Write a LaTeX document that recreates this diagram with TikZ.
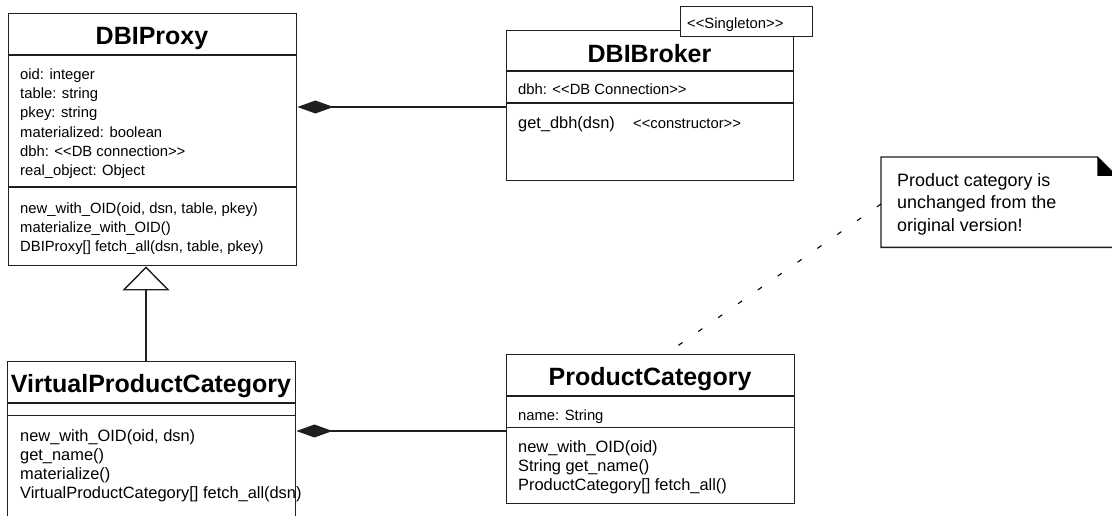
\documentclass[tikz,border=0pt]{standalone}
\usepackage{fontspec}
\setmainfont{Liberation Sans}
\usetikzlibrary{arrows.meta,calc}

\newcommand{\bodyfont}{\fontsize{14.8}{19.3}\selectfont}
\newcommand{\largebodyfont}{\fontsize{16.4}{19}\selectfont}
\newcommand{\clstitlefont}{\fontsize{25}{30}\selectfont\bfseries}
\newcommand{\notefont}{\fontsize{17.9}{22}\selectfont}

\begin{document}
\begin{tikzpicture}[x=1pt,y=-1pt,
  ink/.style={draw=black!88, line width=1.4pt},
  classbox/.style={ink, fill=white, rectangle, inner sep=0pt, anchor=north west},
  clstitle/.style={font=\clstitlefont, anchor=base, inner sep=0pt},
  members/.style={font=\bodyfont, anchor=north west, align=left, inner sep=0pt},
  label/.style={font=\bodyfont, anchor=base west, inner sep=0pt},
  divider/.style={ink},
  comp/.style={ink, -{Diamond[length=36pt,width=13pt]}},
  gen/.style={ink, -{Triangle[open,length=24pt,width=47pt,fill=white]}},
  anchorline/.style={draw=black, line width=1.1pt, dash pattern=on 5pt off 19.2pt},
]
\clip (0,0) rectangle (1112,516);
\fill[white] (0,0) rectangle (1112,516);

% ---------- DBIProxy ----------
\node[classbox, minimum width=288pt, minimum height=252pt] (proxy) at (8,13) {};
\node[clstitle] (proxy-t) at (152,45) {DBIProxy};
\draw[divider] (proxy.west |- 0,55) -- (proxy.east |- 0,55);
\draw[divider] (proxy.west |- 0,187) -- (proxy.east |- 0,187);
\node[members] (proxy-a) at (20,65.5) {\strut oid: integer\\table: string\\pkey: string\\materialized: boolean\\dbh: {<}{<}DB connection{>}{>}\\real\_object: Object};
\node[members] (proxy-o) at (20,199.5) {\strut new\_with\_OID(oid, dsn, table, pkey)\\materialize\_with\_OID()\\DBIProxy[] fetch\_all(dsn, table, pkey)};

% ---------- DBIBroker ----------
\node[classbox, minimum width=287pt, minimum height=150pt] (broker) at (506,30) {};
\node[clstitle] (broker-t) at (649.5,63) {DBIBroker};
\draw[divider] (broker.west |- 0,71) -- (broker.east |- 0,71);
\draw[divider] (broker.west |- 0,103) -- (broker.east |- 0,103);
\node[label] (broker-a) at (518,95) {dbh: {<}{<}DB Connection{>}{>}};
\node[label, font=\largebodyfont] (broker-o) at (518,129) {get\_dbh(dsn)};
\node[label] (broker-s) at (633,129) {{<}{<}constructor{>}{>}};

% stereotype tab
\node[classbox, minimum width=132pt, minimum height=30pt] (single) at (680,6) {};
\node[label] (single-t) at (687,29) {{<}{<}Singleton{>}{>}};

% ---------- VirtualProductCategory ----------
\node[classbox, minimum width=288pt, minimum height=200pt] (vpc) at (7,361) {};
\node[clstitle] (vpc-t) at (151,392) {VirtualProductCategory};
\draw[divider] (vpc.west |- 0,403) -- (vpc.east |- 0,403);
\draw[divider] (vpc.west |- 0,415.5) -- (vpc.east |- 0,415.5);
\node[members, font=\largebodyfont] (vpc-o) at (20,428) {\strut new\_with\_OID(oid, dsn)\\get\_name()\\materialize()\\VirtualProductCategory[] fetch\_all(dsn)};

% ---------- ProductCategory ----------
\node[classbox, minimum width=288pt, minimum height=149pt] (pc) at (506,354) {};
\node[clstitle] (pc-t) at (650,385) {ProductCategory};
\draw[divider] (pc.west |- 0,396) -- (pc.east |- 0,396);
\draw[divider] (pc.west |- 0,427.5) -- (pc.east |- 0,427.5);
\node[label] (pc-a) at (518,420) {name: String};
\node[members, font=\largebodyfont] (pc-o) at (518,438.7) {\strut new\_with\_OID(oid)\\String get\_name()\\ProductCategory[] fetch\_all()};

% ---------- note ----------
\node[inner sep=0pt, minimum width=235pt, minimum height=90pt, anchor=north west] (note) at (881,157) {};
\draw[ink, fill=white] (note.north west) -- ($(note.north east)+(-19,0)$) -- ($(note.north east)+(0,19)$)
  -- (note.south east) -- (note.south west) -- cycle;
\fill[black] ($(note.north east)+(-19,0)$) -- ($(note.north east)+(-19,19)$) -- ($(note.north east)+(0,19)$) -- cycle;
\node[font=\notefont, anchor=north west, align=left, inner sep=0pt] (note-t) at (897,171.4)
  {\strut Product category is\\unchanged from the\\original version!};

% ---------- connectors ----------
\coordinate (cy1) at (0,107);
\coordinate (cy2) at (0,431);
\coordinate (gx) at (146,0);
\draw[comp] (broker.west |- cy1) -- (proxy.east |- cy1);
\draw[comp] (pc.west |- cy2) -- (vpc.east |- cy2);
\draw[gen] (vpc.north -| gx) -- (proxy.south -| gx);
\draw[anchorline] ($(note.north west)+(0,47)$) -- ($(pc.north west)+(160,0)$);
\end{tikzpicture}
\end{document}
